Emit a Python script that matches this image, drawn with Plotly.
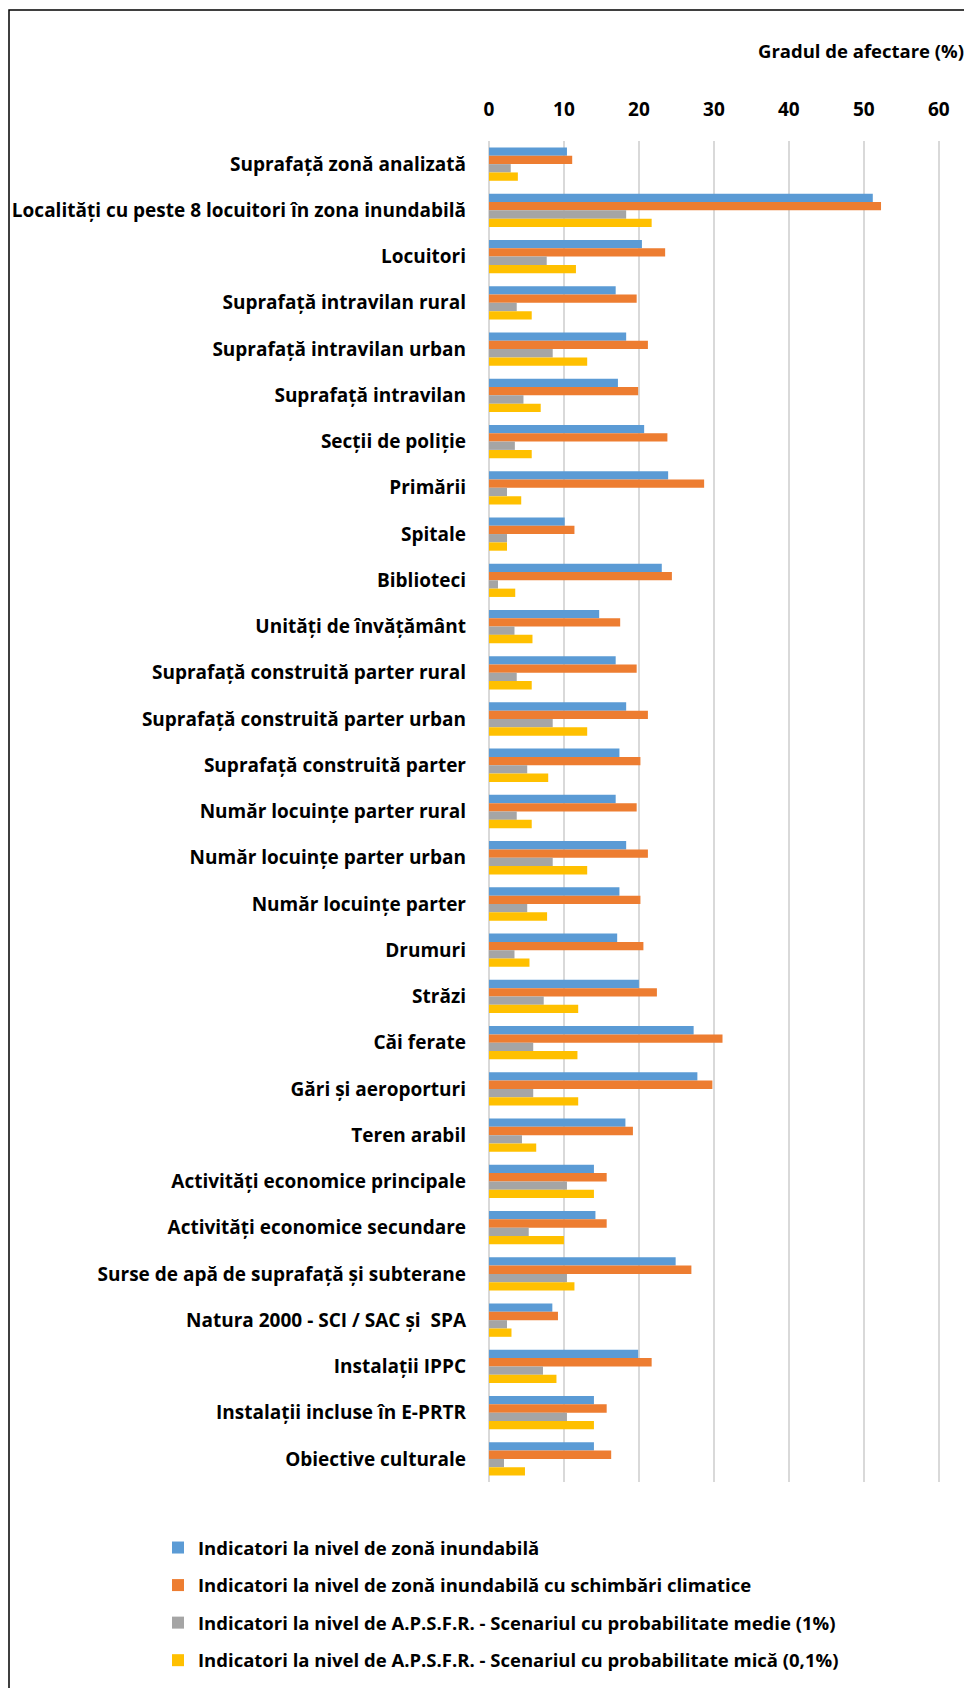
import plotly.graph_objects as go

categories = [
    "Suprafață zonă analizată",
    "Localități cu peste 8 locuitori în zona inundabilă",
    "Locuitori",
    "Suprafață intravilan rural",
    "Suprafață intravilan urban",
    "Suprafață intravilan",
    "Secții de poliție",
    "Primării",
    "Spitale",
    "Biblioteci",
    "Unități de învățământ",
    "Suprafață construită parter rural",
    "Suprafață construită parter urban",
    "Suprafață construită parter",
    "Număr locuințe parter rural",
    "Număr locuințe parter urban",
    "Număr locuințe parter",
    "Drumuri",
    "Străzi",
    "Căi ferate",
    "Gări și aeroporturi",
    "Teren arabil",
    "Activități economice principale",
    "Activități economice secundare",
    "Surse de apă de suprafață și subterane",
    "Natura 2000 - SCI / SAC și  SPA",
    "Instalații IPPC",
    "Instalații incluse în E-PRTR",
    "Obiective culturale",
]

zona_inundabila = [10.4, 51.2, 20.4, 16.9, 18.3, 17.2, 20.7, 23.9, 10.1, 23.05,
                   14.7, 16.9, 18.3, 17.4, 16.9, 18.3, 17.4, 17.1, 20.0, 27.3,
                   27.8, 18.2, 14.0, 14.2, 24.9, 8.45, 19.9, 14.0, 14.0]
zona_inundabila_cc = [11.1, 52.3, 23.5, 19.7, 21.2, 19.9, 23.8, 28.7, 11.4, 24.4,
                      17.5, 19.7, 21.2, 20.2, 19.7, 21.2, 20.2, 20.6, 22.4, 31.15,
                      29.8, 19.2, 15.7, 15.7, 27.0, 9.2, 21.7, 15.7, 16.3]
apsfr_medie = [2.9, 18.3, 7.7, 3.7, 8.5, 4.6, 3.45, 2.4, 2.4, 1.2,
               3.4, 3.7, 8.5, 5.1, 3.7, 8.5, 5.1, 3.4, 7.3, 5.9,
               5.9, 4.4, 10.4, 5.3, 10.4, 2.4, 7.2, 10.4, 2.0]
apsfr_mica = [3.85, 21.7, 11.6, 5.7, 13.1, 6.9, 5.7, 4.3, 2.4, 3.5,
              5.8, 5.7, 13.1, 7.9, 5.7, 13.1, 7.75, 5.4, 11.9, 11.8,
              11.9, 6.3, 14.0, 10.0, 11.4, 3.0, 9.0, 14.0, 4.8]

series_names = [
    "Indicatori la nivel de zonă inundabilă",
    "Indicatori la nivel de zonă inundabilă cu schimbări climatice",
    "Indicatori la nivel de A.P.S.F.R. - Scenariul cu probabilitate medie (1%)",
    "Indicatori la nivel de A.P.S.F.R. - Scenariul cu probabilitate mică (0,1%)",
]
series_values = [zona_inundabila, zona_inundabila_cc, apsfr_medie, apsfr_mica]
colors = ["#5B9BD5", "#ED7D31", "#A5A5A5", "#FFC000"]

tick_vals = [0, 10, 20, 30, 40, 50, 60]
axis_title = "Gradul de afectare (%)"

# page has an 8px body margin; figure coordinates = page coordinates - 8
OFF = 8
W, H = 972 - OFF, 1688 - OFF
L, R, T, B = 489 - OFF, 941 - OFF, 141 - OFF, 1482 - OFF
FONT = "Open Sans"

fig = go.Figure()
for i, (name, vals) in enumerate(zip(series_names, series_values)):
    fig.add_trace(go.Bar(
        y=categories, x=vals, name=name, orientation="h",
        marker=dict(color=colors[i], line=dict(width=0)),
        legendgroup=f"g{i}",
    ))

def px_x(x):
    return (x - OFF - L) / (R - L)

def px_y(y):
    return (B - (y - OFF)) / (B - T)

fig.update_layout(
    width=W, height=H,
    margin=dict(l=L, r=W - R, t=T, b=H - B, autoexpand=False),
    paper_bgcolor="white", plot_bgcolor="white",
    barmode="group", bargap=0.28, bargroupgap=0,
    font=dict(family=FONT, color="#000000", size=16),
    xaxis=dict(
        side="top", range=[0, 60.3], tickvals=tick_vals, automargin=False,
        showgrid=True, gridcolor="#D9D9D9", gridwidth=1.5,
        zeroline=True, zerolinecolor="#D9D9D9", zerolinewidth=1.5,
        showline=False, ticks="",
        tickfont=dict(family=FONT, size=19, color="#000000", weight="bold"),
        ticklabelstandoff=20,
    ),
    yaxis=dict(
        autorange="reversed", showgrid=False, zeroline=False, showline=False,
        automargin=False,
        ticks="", tickfont=dict(family=FONT, size=19, color="#000000", weight="bold"),
        ticklabelstandoff=22,
    ),
    legend=dict(
        x=px_x(158), y=px_y(1529), xanchor="left", yanchor="top",
        orientation="v", traceorder="grouped", tracegroupgap=10.5,
        font=dict(family=FONT, size=18.5, color="#000000", weight="bold"),
        itemwidth=30, bgcolor="rgba(0,0,0,0)",
    ),
    showlegend=True,
)

fig.add_annotation(
    x=px_x(966), y=px_y(50), xref="paper", yref="paper",
    xanchor="right", yanchor="middle", showarrow=False,
    text=f"<b>{axis_title}</b>", font=dict(family=FONT, size=18.5, color="#000000"),
)

fig.add_shape(
    type="rect", xref="paper", yref="paper",
    x0=px_x(9), x1=px_x(970), y0=px_y(1710), y1=px_y(10),
    line=dict(color="#000000", width=1.5), fillcolor="rgba(0,0,0,0)", layer="above",
)

fig.write_html("out.html")
